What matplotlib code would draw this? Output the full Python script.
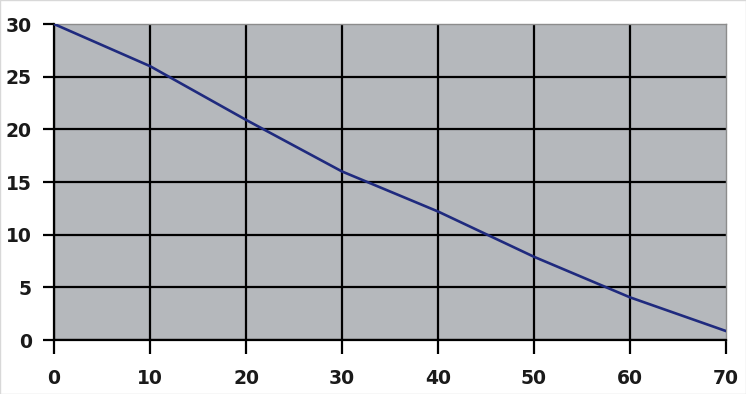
import matplotlib.pyplot as plt
from matplotlib.patches import Rectangle

# values
x_vals = [0, 10, 20, 30, 40, 50, 60, 70]
y_vals = [30, 26, 20.9, 16, 12.2, 7.9, 4.05, 0.85]
x_ticks = [0, 10, 20, 30, 40, 50, 60, 70]
y_ticks = [0, 5, 10, 15, 20, 25, 30]

fig = plt.figure(figsize=(7.46, 3.94), dpi=100)
ax = fig.add_axes([54 / 746, 1 - 340 / 394, 672 / 746, 316 / 394])
ax.set_facecolor('#b5b8bc')

ax.plot(x_vals, y_vals, color='#1f2a7e', linewidth=1.9, zorder=3)

ax.set_xlim(0, 70)
ax.set_ylim(0, 30)
ax.set_xticks(x_ticks)
ax.set_yticks(y_ticks)
ax.grid(True, color='black', linewidth=1.6, zorder=1)
ax.set_axisbelow(True)
# the outer edges are a thin grey frame, not black grid
ax.xaxis.get_gridlines()[-1].set_visible(False)
ax.yaxis.get_gridlines()[-1].set_visible(False)

for s in ['top', 'right']:
    ax.spines[s].set_color('#8c8c8c')
    ax.spines[s].set_linewidth(1.0)
for s in ['left', 'bottom']:
    ax.spines[s].set_color('black')
    ax.spines[s].set_linewidth(1.6)

ax.tick_params(axis='both', width=1.6, color='black',
               labelsize=13.5, labelcolor='#1a1a1a')
ax.tick_params(axis='y', length=8, pad=8)
ax.tick_params(axis='x', length=10, pad=11)
for lab in ax.get_xticklabels() + ax.get_yticklabels():
    lab.set_fontweight('bold')
    lab.set_family('DejaVu Sans')

fig.patches.append(Rectangle((0, 0), 1, 1, transform=fig.transFigure,
                             fill=False, edgecolor='#d8d8d8', linewidth=1))

fig.savefig('out.png', dpi=100)
